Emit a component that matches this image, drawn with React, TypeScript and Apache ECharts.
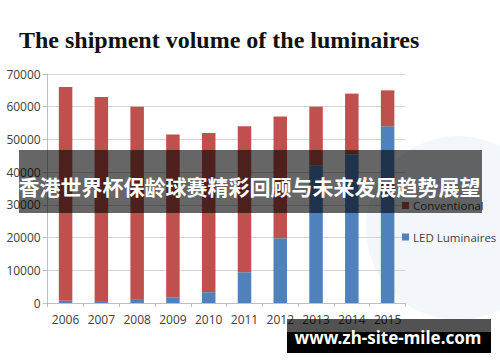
import React, { useEffect, useRef } from "react";
import * as echarts from "echarts";

const years = ["2006", "2007", "2008", "2009", "2010", "2011", "2012", "2013", "2014", "2015"];
const ledValues = [700, 600, 1200, 1700, 3300, 9400, 19800, 42000, 45500, 54000];
const conventionalValues = [65300, 62400, 58800, 49800, 48700, 44600, 37200, 18000, 18500, 11000];
const titleText = "The shipment volume of the luminaires";
const overlayText = "香港世界杯保龄球赛精彩回顾与未来发展趋势展望";
const siteText = "www.zh-site-mile.com";

export default function App() {
  const ref = useRef<HTMLDivElement>(null);
  useEffect(() => {
    if (!ref.current) return;
    const chart = echarts.init(ref.current, undefined, { renderer: "svg" });
    const labelFont = "'Open Sans', 'Liberation Sans', sans-serif";
    chart.setOption({
      animation: false,
      backgroundColor: "#ffffff",
      grid: { left: 47.7, right: 94.5, top: 74, bottom: 59, containLabel: false },
      legend: {
        orient: "vertical",
        left: 402,
        top: 199.5,
        padding: 0,
        itemWidth: 7,
        itemHeight: 7,
        itemGap: 19.5,
        icon: "rect",
        data: ["Conventional", "LED Luminaires"],
        textStyle: { color: "#404040", fontSize: 11.5, fontFamily: labelFont, padding: [0, 0, 0, -1] },
      },
      xAxis: {
        type: "category",
        data: years,
        boundaryGap: true,
        axisLine: { show: true, lineStyle: { color: "#bfbfbf", width: 1 } },
        axisTick: { show: true, length: 4, lineStyle: { color: "#bfbfbf" } },
        axisLabel: { color: "#404040", fontSize: 12, fontFamily: labelFont, margin: 10 },
      },
      yAxis: {
        type: "value",
        min: 0,
        max: 70000,
        interval: 10000,
        axisLine: { show: true, lineStyle: { color: "#bfbfbf", width: 1 } },
        axisTick: { show: true, length: 5, lineStyle: { color: "#bfbfbf" } },
        axisLabel: {
          color: "#404040",
          fontSize: 12,
          fontFamily: labelFont,
          margin: 7,
          formatter: (v: number) => String(v),
        },
        splitLine: { show: true, lineStyle: { color: "#d4d4d4", width: 1 } },
      },
      series: [
        {
          name: "LED Luminaires",
          type: "bar",
          stack: "total",
          data: ledValues,
          barWidth: 13.5,
          itemStyle: { color: "#4f81bd" },
        },
        {
          name: "Conventional",
          type: "bar",
          stack: "total",
          data: conventionalValues,
          barWidth: 13.5,
          itemStyle: { color: "#c0504d" },
        },
      ],
      graphic: [
        {
          type: "circle",
          z: -10,
          silent: true,
          shape: { cx: 458, cy: 228, r: 92 },
          style: { fill: "#f3f6fa" },
        },
        {
          type: "text",
          left: 19,
          top: 28,
          style: {
            text: titleText,
            fill: "#111111",
            font: "bold 24px 'Liberation Serif', 'Times New Roman', serif",
          },
        },
        {
          type: "rect",
          z: 100,
          shape: { x: 19, y: 150, width: 463, height: 63 },
          style: { fill: "rgba(0,0,0,0.6)" },
        },
        {
          type: "text",
          z: 101,
          x: 249.5,
          y: 185.5,
          style: {
            text: overlayText,
            fill: "#ffffff",
            align: "center",
            verticalAlign: "middle",
            font: "bold 21px 'Noto Sans CJK SC', sans-serif",
          },
        },
        {
          type: "rect",
          z: 100,
          shape: { x: 287, y: 319, width: 204, height: 13 },
          style: { fill: "rgba(0,0,0,0.68)" },
        },
        {
          type: "rect",
          z: 100,
          shape: { x: 287, y: 332, width: 204, height: 21 },
          style: { fill: "#000000" },
        },
        {
          type: "text",
          z: 101,
          x: 388,
          y: 337.5,
          style: {
            text: siteText,
            fill: "#ffffff",
            align: "center",
            verticalAlign: "middle",
            font: "bold 17px 'Noto Sans', sans-serif",
          },
        },
      ],
    });
    return () => chart.dispose();
  }, []);
  return <div ref={ref} style={{ width: 500, height: 362, position: "absolute", left: 0, top: 0 }} />;
}
